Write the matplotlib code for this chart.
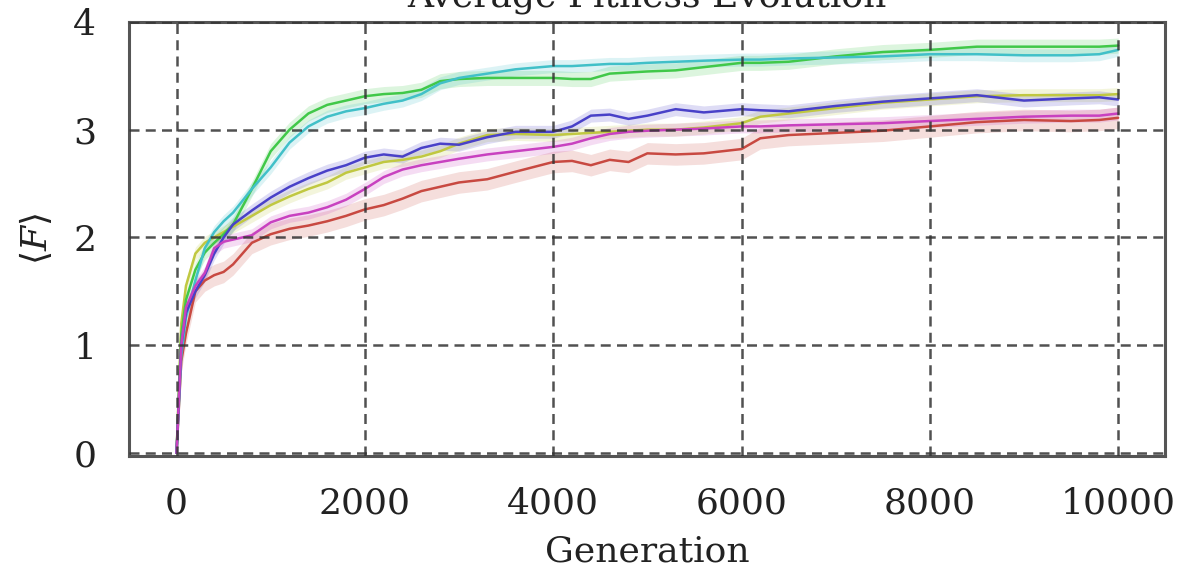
import numpy as np
import matplotlib
matplotlib.use("Agg")
import matplotlib.pyplot as plt
import seaborn as sns

# Generations at which the mean fitness was read
gens = [0, 50, 100, 200, 300, 400, 500, 600, 800, 1000, 1200, 1400, 1600, 1800,
        2000, 2200, 2400, 2600, 2800, 3000, 3300, 3600, 4000, 4200, 4400, 4600,
        4800, 5000, 5300, 5600, 6000, 6200, 6500, 7000, 7500, 8000, 8500, 9000,
        9500, 9800, 10000]

red = [0, 0.85, 1.11, 1.50, 1.60, 1.65, 1.68, 1.75, 1.95, 2.03, 2.08, 2.11, 2.15, 2.20,
       2.26, 2.30, 2.36, 2.43, 2.47, 2.51, 2.54, 2.61, 2.70, 2.71, 2.67, 2.72,
       2.70, 2.78, 2.77, 2.78, 2.82, 2.92, 2.95, 2.97, 2.99, 3.03, 3.07, 3.09,
       3.08, 3.09, 3.11]
yellow = [0, 1.20, 1.55, 1.85, 1.95, 2.00, 2.05, 2.10, 2.20, 2.30, 2.38, 2.45, 2.51, 2.60,
          2.65, 2.70, 2.72, 2.75, 2.80, 2.87, 2.95, 2.96, 2.95, 2.96, 2.97, 2.98,
          2.99, 3.00, 3.00, 3.02, 3.06, 3.12, 3.15, 3.20, 3.25, 3.28, 3.31, 3.32,
          3.32, 3.32, 3.33]
green = [0, 1.10, 1.42, 1.70, 1.86, 1.95, 2.03, 2.12, 2.45, 2.80, 3.00, 3.15, 3.23, 3.27,
         3.31, 3.33, 3.34, 3.37, 3.45, 3.47, 3.48, 3.48, 3.48, 3.47, 3.47, 3.52,
         3.53, 3.54, 3.55, 3.58, 3.62, 3.62, 3.63, 3.68, 3.72, 3.74, 3.77, 3.77,
         3.77, 3.77, 3.78]
cyan = [0, 0.90, 1.26, 1.60, 1.90, 2.05, 2.15, 2.23, 2.45, 2.65, 2.88, 3.03, 3.12, 3.17,
        3.20, 3.24, 3.27, 3.33, 3.43, 3.48, 3.52, 3.56, 3.59, 3.59, 3.60, 3.61,
        3.61, 3.62, 3.63, 3.64, 3.65, 3.65, 3.66, 3.67, 3.68, 3.70, 3.70, 3.69,
        3.69, 3.70, 3.74]
blue = [0, 1.00, 1.30, 1.50, 1.65, 1.85, 2.00, 2.12, 2.25, 2.37, 2.47, 2.55, 2.62, 2.67,
        2.74, 2.77, 2.75, 2.83, 2.87, 2.86, 2.93, 2.98, 2.98, 3.03, 3.13, 3.14,
        3.10, 3.13, 3.19, 3.16, 3.19, 3.18, 3.17, 3.22, 3.26, 3.29, 3.32, 3.27,
        3.29, 3.30, 3.28]
magenta = [0, 1.00, 1.35, 1.55, 1.67, 1.90, 1.96, 1.98, 2.02, 2.14, 2.20, 2.23, 2.28, 2.35,
           2.45, 2.56, 2.63, 2.67, 2.70, 2.73, 2.77, 2.80, 2.84, 2.87, 2.92, 2.96,
           2.98, 2.99, 3.00, 3.01, 3.03, 3.03, 3.04, 3.05, 3.06, 3.08, 3.10, 3.12,
           3.13, 3.13, 3.15]

series = [red, yellow, green, cyan, blue, magenta]
spread = [0.10, 0.06, 0.07, 0.06, 0.06, 0.06]  # half width of the shaded band

sns.set_style("white")
plt.rcParams['font.family'] = ['DejaVu Serif']
plt.rcParams['mathtext.fontset'] = 'dejavuserif'

colors = sns.hls_palette(6, l=0.52, s=0.55)

fig, ax = plt.subplots(figsize=(11.77, 5.76), dpi=100)
fig.subplots_adjust(left=0.110, right=0.990, top=0.962, bottom=0.208)

x = np.array(gens)
for i, s in enumerate(series):
    y = np.array(s)
    ax.fill_between(x, y - spread[i], y + spread[i], color=colors[i], alpha=0.18, lw=0)
    ax.plot(x, y, color=colors[i], lw=1.8)

ax.set_xlim(-500, 10500)
ax.set_ylim(-0.03, 4)
ax.set_xticks([0, 2000, 4000, 6000, 8000, 10000])
ax.set_yticks([0, 1, 2, 3, 4])
ax.grid(True, color='#333333', linestyle=(0, (4, 2.5)), lw=1.8, alpha=0.85)
ax.set_axisbelow(False)
for sp in ax.spines.values():
    sp.set_color('#555555')
    sp.set_linewidth(2.2)
ax.tick_params(axis='both', length=0, labelsize=26, colors='#222222')
ax.tick_params(axis='x', pad=22)
ax.tick_params(axis='y', pad=24)

ax.set_xlabel("Generation", fontsize=26, color='#222222', labelpad=10)
ax.set_ylabel(r"$\langle F\rangle$", fontsize=26, color='#222222', labelpad=14)
ax.set_title("Average Fitness Evolution", fontsize=26, color='#222222', pad=11)

plt.savefig("out.png", dpi=100)
